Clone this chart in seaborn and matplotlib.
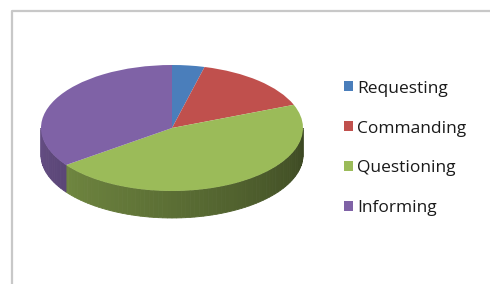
import numpy as np
import matplotlib
matplotlib.use("Agg")
import matplotlib.pyplot as plt
import seaborn as sns
from matplotlib.transforms import Affine2D
from matplotlib.patches import Polygon, Patch
import matplotlib.colors as mcolors

categories = ["Requesting", "Commanding", "Questioning", "Informing"]
values = [4, 15, 46, 35]
colors = ["#4a7ebb", "#c0504d", "#9bbb59", "#7f62a6"]

sns.set_theme(style="white")
plt.rcParams['font.family'] = ['Open Sans', 'DejaVu Sans']

W, H = 490, 284
fig = plt.figure(figsize=(W / 100, H / 100), dpi=100)
ax = fig.add_axes([0, 0, 1, 1])
ax.set_xlim(0, W)
ax.set_ylim(0, H)
ax.axis('off')

# frame
ax.plot([11.5, 11.5, W], [0, H - 10.5, H - 10.5], color="#c8c8c8", lw=1.6, zorder=1)

cx, cy = 172, H - 128
R = 131
k = 63 / 131
depth = 27

# side of the disc (front half), drawn first
total = sum(values)
cum = np.concatenate([[0], np.cumsum(values)]) / total
for i, c in enumerate(colors):
    start = 90 - 360 * cum[i + 1]
    end = 90 - 360 * cum[i]
    base = np.array(mcolors.to_rgb(c))
    for off in (-360, 0, 360):
        lo = max(start, -180 + off)
        hi = min(end, 0 + off)
        if hi <= lo:
            continue
        edges = np.linspace(lo, hi, max(2, int((hi - lo) / 2) + 1))
        for a0, a1 in zip(edges[:-1], edges[1:]):
            t = ((0.5 * (a0 + a1) - off) + 180) / 180.0  # 0 at left, 1 at right
            f = 0.80 - 0.42 * t
            col = np.clip(base * f, 0, 1)
            th = np.radians([a0, a1])
            xs = cx + R * np.cos(th)
            ys = cy + R * k * np.sin(th)
            poly = Polygon([[xs[0], ys[0]], [xs[1], ys[1]],
                            [xs[1], ys[1] - depth], [xs[0], ys[0] - depth]],
                           closed=True, facecolor=col, edgecolor=col, lw=0.6, zorder=2)
            ax.add_patch(poly)

# top face
wedges, _ = ax.pie(values, colors=colors, startangle=90, counterclock=False,
                   center=(cx, cy), radius=R, frame=True,
                   wedgeprops=dict(linewidth=0, antialiased=True))
tr = Affine2D().translate(-cx, -cy).scale(1, k).translate(cx, cy) + ax.transData
for w in wedges:
    w.set_transform(tr)
    w.set_zorder(3)
ax.set_xlim(0, W)
ax.set_ylim(0, H)
ax.set_aspect('auto')
ax.axis('off')

handles = [Patch(facecolor=c, edgecolor='none') for c in colors]
leg = ax.legend(handles, categories, loc='center left',
                bbox_to_anchor=(337 / W, 1 - 148.5 / H), frameon=False,
                fontsize=12.5, handlelength=0.5, handleheight=0.5,
                handletextpad=0.25, labelspacing=1.38, borderaxespad=0)
for t in leg.get_texts():
    t.set_color("#1a1a1a")

fig.savefig("out.png", dpi=100, facecolor="white")
